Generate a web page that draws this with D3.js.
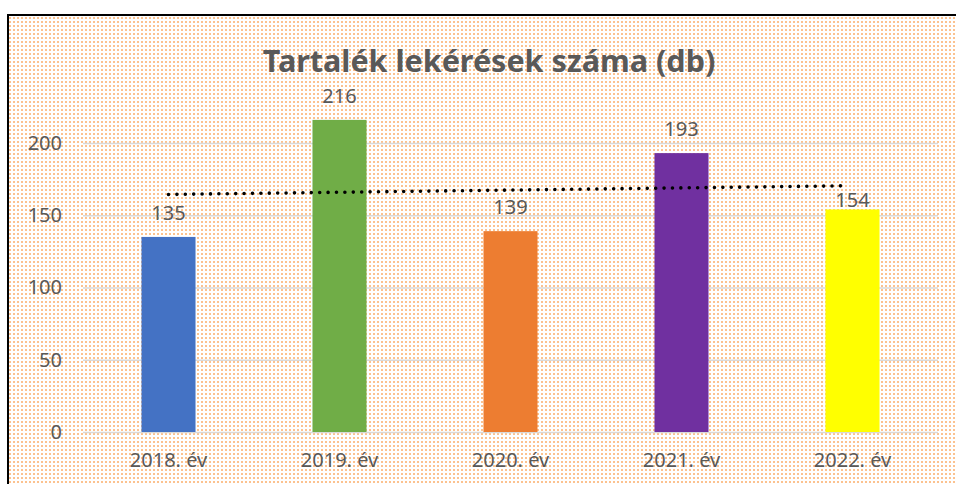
<!DOCTYPE html>
<html>
<head>
<meta charset="utf-8">
<script src="https://cdn.jsdelivr.net/npm/d3@7"></script>
<style>
  body { margin: 0; background: #fff; }
  text { font-family: 'Noto Sans', sans-serif; fill: #595959; }
</style>
</head>
<body>
<div id="chart"></div>
<script>
var categories = ['2018. év', '2019. év', '2020. év', '2021. év', '2022. év'];
var values = [135, 216, 139, 193, 154];
var barColors = ['#4472c4', '#70ad47', '#ed7d31', '#7030a0', '#ffff00'];
var yTicks = [0, 50, 100, 150, 200];
var title = 'Tartalék lekérések száma (db)';

var width = 956;
var height = 484;
var margin = { top: 143, right: 18, bottom: 52, left: 83 };
var graphWidth = width - margin.left - margin.right;
var graphHeight = height - margin.top - margin.bottom;

var svg = d3
  .select('#chart')
  .append('svg')
  .attr('width', width)
  .attr('height', height);

// dotted orange fill of the chart area
var defs = svg.append('defs');
var pat = defs
  .append('pattern')
  .attr('id', 'dots')
  .attr('patternUnits', 'userSpaceOnUse')
  .attr('width', 4)
  .attr('height', 4);
pat.append('rect').attr('width', 4).attr('height', 4).attr('fill', '#ffffff');
pat.append('rect').attr('x', 1).attr('y', 1).attr('width', 2).attr('height', 2).attr('fill', '#fcc28f');

svg
  .append('rect')
  .attr('x', 8)
  .attr('y', 15)
  .attr('width', width + 20)
  .attr('height', height + 20)
  .attr('fill', 'url(#dots)')
  .attr('stroke', '#000')
  .attr('stroke-width', 2);

svg
  .append('text')
  .attr('x', 489)
  .attr('y', 72)
  .attr('text-anchor', 'middle')
  .style('font-size', '30.5px')
  .style('font-weight', 'bold')
  .text(title);

var graph = svg
  .append('g')
  .attr('transform', 'translate(' + margin.left + ',' + margin.top + ')');

var x = d3.scaleBand().range([0, graphWidth]).domain(categories);
var y = d3.scaleLinear().range([graphHeight, 0]).domain([0, 200]);

// y grid + labels
var yAxis = d3
  .axisLeft(y)
  .tickValues(yTicks)
  .tickSize(-graphWidth)
  .tickPadding(21);
var yAxisGroup = graph.append('g').attr('class', 'y-axis').call(yAxis);
yAxisGroup.select('.domain').remove();
yAxisGroup.selectAll('line').attr('stroke', '#d9d9d9').attr('stroke-width', 1.5);
yAxisGroup
  .selectAll('text')
  .style('font-size', '20px')
  .style('font-family', "'Noto Sans', sans-serif")
  .attr('fill', '#595959');

// x labels
var xAxis = d3.axisBottom(x).tickSize(0).tickPadding(21);
var xAxisGroup = graph
  .append('g')
  .attr('class', 'x-axis')
  .attr('transform', 'translate(0,' + graphHeight + ')')
  .call(xAxis);
xAxisGroup.select('.domain').remove();
xAxisGroup
  .selectAll('text')
  .style('font-size', '20px')
  .style('font-family', "'Noto Sans', sans-serif")
  .attr('fill', '#595959');

var barWidth = x.bandwidth() * 0.316;
var data = categories.map((c, i) => ({ cat: c, val: values[i], color: barColors[i] }));

graph
  .selectAll('rect.bar')
  .data(data)
  .enter()
  .append('rect')
  .attr('class', 'bar')
  .attr('x', d => x(d.cat) + x.bandwidth() / 2 - barWidth / 2)
  .attr('y', d => y(d.val))
  .attr('width', barWidth)
  .attr('height', d => graphHeight - y(d.val))
  .attr('fill', d => d.color);

// linear trendline
var n = values.length;
var xs = d3.range(1, n + 1);
var mx = d3.mean(xs);
var my = d3.mean(values);
var slope = d3.sum(xs, (v, i) => (v - mx) * (values[i] - my)) / d3.sum(xs, v => (v - mx) * (v - mx));
var icpt = my - slope * mx;
var trendAt = i => icpt + slope * (i + 1);
var cx = d => x(d) + x.bandwidth() / 2;

graph
  .append('line')
  .attr('x1', cx(categories[0]))
  .attr('y1', y(trendAt(0)))
  .attr('x2', cx(categories[n - 1]) - 4)
  .attr('y2', y(trendAt(n - 1)))
  .attr('stroke', '#000')
  .attr('stroke-width', 3.6)
  .attr('stroke-linecap', 'round')
  .attr('stroke-dasharray', '0,8.4');

// data labels, pushed under the trendline when they would collide
graph
  .selectAll('text.lbl')
  .data(data)
  .enter()
  .append('text')
  .attr('class', 'lbl')
  .attr('x', d => cx(d.cat))
  .attr('y', (d, i) => {
    var base = y(d.val) - 17;
    var ty = y(trendAt(i));
    if (base > ty - 3 && base - 15 < ty + 3) return ty + 21;
    return base;
  })
  .attr('text-anchor', 'middle')
  .style('font-size', '20px')
  .text(d => d.val);
</script>
</body>
</html>
